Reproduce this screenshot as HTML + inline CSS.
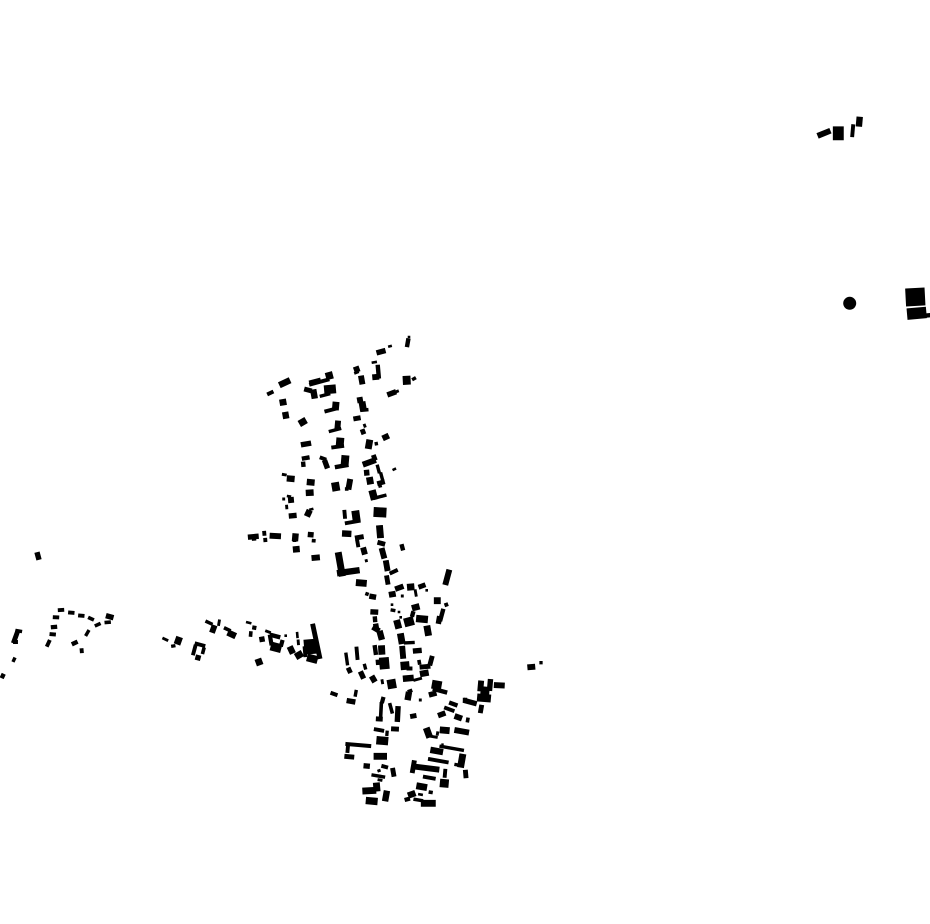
<!DOCTYPE html>
<html><head><meta charset="utf-8"><style>html,body{margin:0;padding:0;background:#fff}svg{display:block}</style></head><body>
<svg width="930" height="924" viewBox="0 0 930 924" xmlns="http://www.w3.org/2000/svg">
<defs><path id="b" d="M-.5-.5h1v1h-1z" stroke="#000" stroke-width="0.9" vector-effect="non-scaling-stroke"/></defs>
<rect width="930" height="924" fill="#fff"/>
<g fill="#000">
<!-- top right -->
<use href="#b" transform="translate(824 133.3) rotate(-22) scale(13 5)"/>
<use href="#b" transform="translate(838.3 133.3) scale(10 13)"/>
<use href="#b" transform="translate(852.7 130.7) rotate(5) scale(3 12)"/>
<use href="#b" transform="translate(859.3 121.7) rotate(5) scale(5.5 9)"/>
<circle cx="849.7" cy="303.3" r="6.5"/>
<use href="#b" transform="translate(915.3 297) rotate(-3) scale(18.5 17)"/>
<use href="#b" transform="translate(916.7 313.3) rotate(-5) scale(18.5 10.5)"/>
<use href="#b" transform="translate(926.5 315.5) rotate(-5) scale(6.5 3.5)"/>
<!-- north -->
<use href="#b" transform="translate(270.3 393) rotate(-25) scale(6 3)"/>
<use href="#b" transform="translate(284.7 382.7) rotate(-25) scale(11 5.5)"/>
<use href="#b" transform="translate(283 402.3) rotate(-10) scale(6 5.5)"/>
<use href="#b" transform="translate(285.7 415.3) rotate(-10) scale(5.5 6)"/>
<use href="#b" transform="translate(302.7 422) rotate(-30) scale(7 6)"/>
<use href="#b" transform="translate(306 444) rotate(-10) scale(9.5 4.5)"/>
<use href="#b" transform="translate(305.7 458) rotate(-10) scale(7 3.5)"/>
<use href="#b" transform="translate(303.3 464.3) rotate(-5) scale(3.5 4.5)"/>
<use href="#b" transform="translate(323 458.5) rotate(20) scale(6 3)"/>
<use href="#b" transform="translate(326 464.3) rotate(-20) scale(4.5 8)"/>
<use href="#b" transform="translate(345 460.7) rotate(5) scale(7 10)"/>
<use href="#b" transform="translate(341.7 466) rotate(-10) scale(13 3.5)"/>
<use href="#b" transform="translate(340 442.3) rotate(5) scale(7 8.5)"/>
<use href="#b" transform="translate(337.7 446.7) rotate(-8) scale(12 3)"/>
<use href="#b" transform="translate(337.7 425.3) rotate(5) scale(5 8.5)"/>
<use href="#b" transform="translate(335 430) rotate(-15) scale(12 2.5)"/>
<use href="#b" transform="translate(335.7 406) rotate(5) scale(6 7.5)"/>
<use href="#b" transform="translate(330.7 410) rotate(-15) scale(12 3)"/>
<use href="#b" transform="translate(319.3 382) rotate(-15) scale(20 3)"/>
<use href="#b" transform="translate(315 381.5) rotate(-15) scale(11 4)"/>
<use href="#b" transform="translate(329.3 375.7) rotate(-15) scale(6.5 6.5)"/>
<use href="#b" transform="translate(308 390) rotate(15) scale(7 4)"/>
<use href="#b" transform="translate(314 394) rotate(-10) scale(5.5 8.5)"/>
<use href="#b" transform="translate(330 389.3) rotate(-5) scale(11 8)"/>
<use href="#b" transform="translate(325 395) rotate(-15) scale(10 2.5)"/>
<use href="#b" transform="translate(356.7 369.3) rotate(-20) scale(5 5)"/>
<use href="#b" transform="translate(356.5 372.5) rotate(-20) scale(4 2)"/>
<use href="#b" transform="translate(361.7 380) rotate(-10) scale(5 8)"/>
<use href="#b" transform="translate(374.3 362.3) rotate(-10) scale(4.5 1.7)"/>
<use href="#b" transform="translate(378.3 371.7) rotate(-5) scale(3.5 13)"/>
<use href="#b" transform="translate(375.7 377) rotate(-5) scale(6 5)"/>
<use href="#b" transform="translate(381 351.7) rotate(-15) scale(8.5 4.5)"/>
<use href="#b" transform="translate(390 346.3) rotate(-15) scale(3 1.7)"/>
<use href="#b" transform="translate(407.7 342.7) rotate(10) scale(3.5 8)"/>
<use href="#b" transform="translate(409 337) scale(1.7 1.7)"/>
<use href="#b" transform="translate(406.7 380.3) rotate(-3) scale(7 8)"/>
<use href="#b" transform="translate(414 378.7) rotate(-30) scale(3.5 2.5)"/>
<use href="#b" transform="translate(391.7 393.3) rotate(-20) scale(8.5 4.5)"/>
<use href="#b" transform="translate(397.3 391.3) rotate(-20) scale(2.3 2)"/>
<use href="#b" transform="translate(360 400) rotate(-10) scale(5 5)"/>
<use href="#b" transform="translate(362.7 406) rotate(-10) scale(6 8)"/>
<use href="#b" transform="translate(364.3 410) rotate(-5) scale(7.5 2.7)"/>
<use href="#b" transform="translate(357 418.3) rotate(-10) scale(6.5 4)"/>
<use href="#b" transform="translate(364.7 425.7) rotate(-20) scale(2 3)"/>
<use href="#b" transform="translate(363 431.7) rotate(-20) scale(4 4.5)"/>
<use href="#b" transform="translate(369 444.3) rotate(10) scale(6 8.5)"/>
<use href="#b" transform="translate(376.3 443.7) rotate(-10) scale(2.5 2.7)"/>
<use href="#b" transform="translate(385.7 437) rotate(-25) scale(6 5)"/>
<use href="#b" transform="translate(369.3 462.3) rotate(-20) scale(13 5)"/>
<use href="#b" transform="translate(374.3 457.7) rotate(-20) scale(4 5)"/>
<use href="#b" transform="translate(378.3 469) rotate(-15) scale(2.5 8)"/>
<use href="#b" transform="translate(366.7 472.7) rotate(-5) scale(4.5 5)"/>
<use href="#b" transform="translate(370 480.7) rotate(-10) scale(6 6.5)"/>
<use href="#b" transform="translate(394.3 469.3) rotate(-25) scale(3 1.7)"/>
<use href="#b" transform="translate(381.7 476.7) rotate(-15) scale(2.5 8)"/>
<use href="#b" transform="translate(381 482.7) rotate(-15) scale(7 4)"/>
<use href="#b" transform="translate(380 485.7) rotate(-15) scale(2.7 3)"/>
<!-- middle -->
<use href="#b" transform="translate(284.3 474.7) rotate(10) scale(4 2)"/>
<use href="#b" transform="translate(290.7 478.7) rotate(5) scale(7 5.5)"/>
<use href="#b" transform="translate(310.7 482.3) rotate(5) scale(7 5.5)"/>
<use href="#b" transform="translate(309.7 492.7) rotate(-3) scale(7 5.5)"/>
<use href="#b" transform="translate(335.7 486.7) rotate(-10) scale(7 8)"/>
<use href="#b" transform="translate(349.3 484.3) rotate(10) scale(5 10)"/>
<use href="#b" transform="translate(346.7 489) scale(2.7 2.7)"/>
<use href="#b" transform="translate(283.7 499) scale(2 2)"/>
<use href="#b" transform="translate(291 500) rotate(-5) scale(5 5)"/>
<use href="#b" transform="translate(289 496.3) rotate(10) scale(3.5 1.7)"/>
<use href="#b" transform="translate(286.7 507) rotate(-5) scale(2 3.5)"/>
<use href="#b" transform="translate(292.7 515.7) rotate(-5) scale(7 4.5)"/>
<use href="#b" transform="translate(308.3 513.3) rotate(25) scale(5.5 6)"/>
<use href="#b" transform="translate(311.3 509.3) rotate(-15) scale(3.5 1.7)"/>
<use href="#b" transform="translate(344.7 514.3) rotate(-5) scale(3 8)"/>
<use href="#b" transform="translate(356 516) rotate(-8) scale(7 10)"/>
<use href="#b" transform="translate(352.7 522) rotate(-10) scale(15 3)"/>
<use href="#b" transform="translate(380 512.3) rotate(3) scale(12 9)"/>
<use href="#b" transform="translate(373.3 495) rotate(-15) scale(6.5 9)"/>
<use href="#b" transform="translate(380 496.7) rotate(-15) scale(12.5 2.5)"/>
<use href="#b" transform="translate(253.3 536.7) rotate(-5) scale(10 4.5)"/>
<use href="#b" transform="translate(254 539) rotate(-5) scale(3.5 2.5)"/>
<use href="#b" transform="translate(264.3 533.3) rotate(-5) scale(3 4)"/>
<use href="#b" transform="translate(265.3 540) rotate(-5) scale(3 3.3)"/>
<use href="#b" transform="translate(275.3 536) rotate(3) scale(10.5 5)"/>
<use href="#b" transform="translate(295.3 537.3) rotate(5) scale(5.5 7)"/>
<use href="#b" transform="translate(294.5 540) scale(3 3)"/>
<use href="#b" transform="translate(310.7 534.7) rotate(5) scale(5 4.5)"/>
<use href="#b" transform="translate(313.7 540.7) rotate(5) scale(3 2.7)"/>
<use href="#b" transform="translate(296.3 549.3) rotate(-5) scale(6 5.5)"/>
<use href="#b" transform="translate(315.7 557.7) rotate(-5) scale(7.5 5)"/>
<use href="#b" transform="translate(346.7 533.7) rotate(3) scale(8.5 5.5)"/>
<use href="#b" transform="translate(359.3 537.3) rotate(-10) scale(8 4)"/>
<use href="#b" transform="translate(357.7 543.3) rotate(-10) scale(3 7)"/>
<use href="#b" transform="translate(364 551) rotate(-15) scale(5 6.5)"/>
<use href="#b" transform="translate(366.3 560.7) rotate(-15) scale(2 2)"/>
<use href="#b" transform="translate(340.3 564.3) rotate(-10) scale(6 23.5)"/>
<use href="#b" transform="translate(348.3 571.7) rotate(-8) scale(22 5.5)"/>
<use href="#b" transform="translate(361.3 583) rotate(5) scale(10 6)"/>
<use href="#b" transform="translate(367 594) rotate(20) scale(2.7 2.7)"/>
<use href="#b" transform="translate(372.7 596.7) rotate(10) scale(6 4.5)"/>
<use href="#b" transform="translate(380 531.7) rotate(-5) scale(6 12)"/>
<use href="#b" transform="translate(381.3 543.3) rotate(15) scale(7 4)"/>
<use href="#b" transform="translate(383 553.3) rotate(-15) scale(5 10)"/>
<use href="#b" transform="translate(386.7 565.7) rotate(-10) scale(5 10)"/>
<use href="#b" transform="translate(393.7 571.7) rotate(-25) scale(8 3)"/>
<use href="#b" transform="translate(387.3 580) rotate(-10) scale(4 8.5)"/>
<use href="#b" transform="translate(402.3 547.3) rotate(-15) scale(3.5 5.5)"/>
<use href="#b" transform="translate(447.3 577.3) rotate(15) scale(5 15)"/>
<use href="#b" transform="translate(392.3 594.3) rotate(-10) scale(6 5)"/>
<use href="#b" transform="translate(399.3 587.7) rotate(-20) scale(8 4.5)"/>
<use href="#b" transform="translate(402.3 596) scale(2 2)"/>
<use href="#b" transform="translate(410.7 587) rotate(-5) scale(6.5 6)"/>
<use href="#b" transform="translate(415.7 593) rotate(-10) scale(2 6.5)"/>
<use href="#b" transform="translate(422 586) rotate(-20) scale(6.5 4)"/>
<use href="#b" transform="translate(426.7 590.3) scale(1.7 1.7)"/>
<use href="#b" transform="translate(437.3 600.7) scale(6 6)"/>
<use href="#b" transform="translate(446.3 604.7) rotate(-20) scale(3 3)"/>
<use href="#b" transform="translate(441.7 615) rotate(15) scale(3.5 12)"/>
<use href="#b" transform="translate(439 620) rotate(10) scale(4.5 7)"/>
<use href="#b" transform="translate(392 604.7) scale(1.7 1.7)"/>
<use href="#b" transform="translate(393 610.3) rotate(10) scale(4 2.5)"/>
<use href="#b" transform="translate(399 612) scale(1.7 1.7)"/>
<use href="#b" transform="translate(400.7 617.3) scale(1.7 1.7)"/>
<use href="#b" transform="translate(415.7 607.3) rotate(-15) scale(7 5.5)"/>
<use href="#b" transform="translate(412.7 614) rotate(15) scale(3.5 5)"/>
<use href="#b" transform="translate(422 619) rotate(5) scale(11 6.5)"/>
<use href="#b" transform="translate(409 621.7) rotate(-15) scale(9 8)"/>
<use href="#b" transform="translate(397.7 624.3) rotate(-15) scale(6 8)"/>
<use href="#b" transform="translate(374.3 612) rotate(3) scale(7 4.5)"/>
<use href="#b" transform="translate(375 619.3) rotate(-5) scale(3.5 5)"/>
<use href="#b" transform="translate(376 626) rotate(-10) scale(4.5 4)"/>
<use href="#b" transform="translate(376 629) rotate(30) scale(7 4.5)"/>
<use href="#b" transform="translate(380.7 635.3) rotate(-15) scale(5.5 8.5)"/>
<use href="#b" transform="translate(427.7 630.7) rotate(-10) scale(6 9.5)"/>
<use href="#b" transform="translate(401.3 638.7) rotate(-10) scale(6 10)"/>
<use href="#b" transform="translate(409.3 642.7) rotate(-3) scale(10 2.5)"/>
<!-- lower middle -->
<use href="#b" transform="translate(346.7 659) rotate(-8) scale(2.5 12)"/>
<use href="#b" transform="translate(357 653.3) rotate(-5) scale(3 12.5)"/>
<use href="#b" transform="translate(375.3 650) rotate(-8) scale(3.5 9)"/>
<use href="#b" transform="translate(381.7 650) rotate(-3) scale(6 8.5)"/>
<use href="#b" transform="translate(402.7 652.3) rotate(-5) scale(5 12)"/>
<use href="#b" transform="translate(417.3 650.7) rotate(-5) scale(8 4.5)"/>
<use href="#b" transform="translate(384.3 663.3) rotate(-5) scale(9 11)"/>
<use href="#b" transform="translate(377.7 662.3) rotate(-5) scale(3 4.5)"/>
<use href="#b" transform="translate(365 666.7) rotate(-15) scale(2.5 5)"/>
<use href="#b" transform="translate(349.3 670.3) rotate(-25) scale(4 5)"/>
<use href="#b" transform="translate(362 675) rotate(-25) scale(4.5 7)"/>
<use href="#b" transform="translate(373.3 679) rotate(-30) scale(5 6)"/>
<use href="#b" transform="translate(382.3 681.7) rotate(-10) scale(2 4)"/>
<use href="#b" transform="translate(391.7 684) rotate(-10) scale(8 8.5)"/>
<use href="#b" transform="translate(405 665.7) rotate(-5) scale(8 7.5)"/>
<use href="#b" transform="translate(409.5 668.5) scale(5 3)"/>
<use href="#b" transform="translate(419.3 662.3) rotate(-10) scale(2.7 4)"/>
<use href="#b" transform="translate(431 660.7) rotate(15) scale(4 9)"/>
<use href="#b" transform="translate(425 666.7) rotate(-5) scale(10 4)"/>
<use href="#b" transform="translate(424.3 673.3) rotate(-10) scale(8 5.5)"/>
<use href="#b" transform="translate(408.3 678.3) rotate(-5) scale(10 5.5)"/>
<use href="#b" transform="translate(417.7 679.3) rotate(-15) scale(8 2)"/>
<use href="#b" transform="translate(334 694) rotate(20) scale(6.5 3)"/>
<use href="#b" transform="translate(355.7 693.3) rotate(10) scale(2.5 6)"/>
<use href="#b" transform="translate(351 701.3) rotate(10) scale(8 4.5)"/>
<use href="#b" transform="translate(382.7 700) rotate(15) scale(3.3 5.5)"/>
<use href="#b" transform="translate(381 710) rotate(3) scale(2.7 15)"/>
<use href="#b" transform="translate(391 708.3) rotate(-15) scale(2.7 10)"/>
<use href="#b" transform="translate(397.7 714) rotate(3) scale(4.5 15)"/>
<use href="#b" transform="translate(395 729) rotate(3) scale(7 4)"/>
<use href="#b" transform="translate(379.3 719) rotate(3) scale(6 4)"/>
<use href="#b" transform="translate(410 691) rotate(-20) scale(4 2.7)"/>
<use href="#b" transform="translate(408.3 696) rotate(10) scale(5.5 7.5)"/>
<use href="#b" transform="translate(420.3 700) scale(2 2)"/>
<use href="#b" transform="translate(413.3 716) rotate(-10) scale(5.5 4)"/>
<use href="#b" transform="translate(436.7 685) rotate(10) scale(9 8)"/>
<use href="#b" transform="translate(440 690.7) rotate(15) scale(14 3.5)"/>
<use href="#b" transform="translate(432.7 694) rotate(-15) scale(7 4.5)"/>
<use href="#b" transform="translate(453.3 704) rotate(20) scale(8 3.5)"/>
<use href="#b" transform="translate(449.3 709.3) rotate(20) scale(10 3)"/>
<use href="#b" transform="translate(441.7 714.3) rotate(-20) scale(7 4.5)"/>
<use href="#b" transform="translate(458.3 717.3) rotate(20) scale(7 5)"/>
<use href="#b" transform="translate(467.7 720) rotate(10) scale(2.7 4)"/>
<use href="#b" transform="translate(470 702) rotate(15) scale(13 4.5)"/>
<use href="#b" transform="translate(465 700) scale(3.5 3.5)"/>
<use href="#b" transform="translate(480.7 686) rotate(5) scale(5 10)"/>
<use href="#b" transform="translate(490 685) rotate(5) scale(4.5 11)"/>
<use href="#b" transform="translate(484 698) rotate(5) scale(13 7)"/>
<use href="#b" transform="translate(485 691) rotate(5) scale(8 8)"/>
<use href="#b" transform="translate(499.3 685.3) rotate(3) scale(10 5)"/>
<use href="#b" transform="translate(481 709) rotate(10) scale(4 7.5)"/>
<use href="#b" transform="translate(531.3 667) rotate(-5) scale(7 5)"/>
<use href="#b" transform="translate(541 662.7) scale(2.4 2.4)"/>
<!-- south -->
<use href="#b" transform="translate(379 730) rotate(10) scale(9.5 3)"/>
<use href="#b" transform="translate(387 733.3) rotate(5) scale(2.4 4.5)"/>
<use href="#b" transform="translate(382.3 740.7) rotate(5) scale(11 7.5)"/>
<use href="#b" transform="translate(358.3 745) rotate(5) scale(25 3)"/>
<use href="#b" transform="translate(347.8 748) rotate(5) scale(3 9)"/>
<use href="#b" transform="translate(349.3 756.7) rotate(5) scale(9 4)"/>
<use href="#b" transform="translate(380.3 756.3) scale(12.5 6)"/>
<use href="#b" transform="translate(366.7 766) rotate(5) scale(5.5 4.5)"/>
<use href="#b" transform="translate(384.7 766.7) rotate(15) scale(6 3)"/>
<use href="#b" transform="translate(379 770.7) rotate(-20) scale(2.4 2)"/>
<use href="#b" transform="translate(393.3 772.3) rotate(-10) scale(4 8)"/>
<use href="#b" transform="translate(378.3 776) rotate(10) scale(13 2.5)"/>
<use href="#b" transform="translate(380 780) rotate(10) scale(4 2)"/>
<use href="#b" transform="translate(376.7 787) rotate(-5) scale(6 8)"/>
<use href="#b" transform="translate(369.3 790.7) rotate(-3) scale(13 6)"/>
<use href="#b" transform="translate(371.7 801) rotate(5) scale(11 6.5)"/>
<use href="#b" transform="translate(386 796) rotate(10) scale(5.5 10)"/>
<use href="#b" transform="translate(407.3 799.3) rotate(-15) scale(4.7 3.3)"/>
<use href="#b" transform="translate(411.7 794.3) rotate(-20) scale(7 5.5)"/>
<use href="#b" transform="translate(428.3 803.3) scale(14 6)"/>
<use href="#b" transform="translate(418.3 800) rotate(10) scale(9 2.5)"/>
<use href="#b" transform="translate(420.5 794.5) rotate(10) scale(4 1.7)"/>
<use href="#b" transform="translate(421.7 786.7) rotate(10) scale(10 6)"/>
<use href="#b" transform="translate(430.7 792.3) rotate(10) scale(3.3 2.7)"/>
<use href="#b" transform="translate(444.3 783.3) rotate(5) scale(8 7.5)"/>
<use href="#b" transform="translate(429.3 777.7) rotate(10) scale(12 3)"/>
<use href="#b" transform="translate(413.3 766.7) rotate(10) scale(4 12)"/>
<use href="#b" transform="translate(426 768) rotate(7) scale(26 5)"/>
<use href="#b" transform="translate(445 773.3) rotate(5) scale(3 8)"/>
<use href="#b" transform="translate(438.3 760.7) rotate(10) scale(20 3)"/>
<use href="#b" transform="translate(436.7 751) rotate(10) scale(12 5.5)"/>
<use href="#b" transform="translate(451.7 748.3) rotate(10) scale(24 2.5)"/>
<use href="#b" transform="translate(442.5 745.3) scale(1.5 3)"/>
<use href="#b" transform="translate(461.7 760.7) rotate(10) scale(6 13)"/>
<use href="#b" transform="translate(458 765) rotate(10) scale(6.5 2.4)"/>
<use href="#b" transform="translate(465.7 774) rotate(-5) scale(4 7.5)"/>
<use href="#b" transform="translate(428 732.7) rotate(-20) scale(6 9.5)"/>
<use href="#b" transform="translate(433.3 736.7) rotate(10) scale(8 2)"/>
<use href="#b" transform="translate(437.5 733.5) rotate(10) scale(2 3.3)"/>
<use href="#b" transform="translate(444.7 730.3) rotate(5) scale(9 6)"/>
<use href="#b" transform="translate(461.7 731.3) rotate(10) scale(14 5)"/>
<!-- west: row -->
<use href="#b" transform="translate(165.3 639.3) rotate(25) scale(5.5 2)"/>
<use href="#b" transform="translate(173.3 646) rotate(-10) scale(3.5 2.5)"/>
<use href="#b" transform="translate(178.3 640.7) rotate(20) scale(6 7)"/>
<use href="#b" transform="translate(200 644.7) rotate(15) scale(10 3)"/>
<use href="#b" transform="translate(194.3 650) rotate(15) scale(3 10)"/>
<use href="#b" transform="translate(203.3 650.7) rotate(15) scale(2.7 6)"/>
<use href="#b" transform="translate(198 657.7) rotate(15) scale(4.5 4.5)"/>
<use href="#b" transform="translate(209 622.7) rotate(25) scale(7 2.5)"/>
<use href="#b" transform="translate(213.3 629) rotate(20) scale(5 7)"/>
<use href="#b" transform="translate(219 622.7) rotate(10) scale(2 5.5)"/>
<use href="#b" transform="translate(227.3 629.3) rotate(25) scale(6.5 2.7)"/>
<use href="#b" transform="translate(231.7 634.3) rotate(25) scale(8 5.5)"/>
<use href="#b" transform="translate(248.7 622.7) rotate(15) scale(4.7 1.7)"/>
<use href="#b" transform="translate(254.3 627.7) rotate(10) scale(3.3 3.3)"/>
<use href="#b" transform="translate(250.7 634) rotate(5) scale(2.7 4.7)"/>
<use href="#b" transform="translate(262 639.3) rotate(-10) scale(4.5 4.5)"/>
<use href="#b" transform="translate(268 631.7) rotate(20) scale(5 2)"/>
<use href="#b" transform="translate(275 636) rotate(15) scale(10 3.5)"/>
<use href="#b" transform="translate(270.7 640) rotate(-10) scale(3.3 10)"/>
<use href="#b" transform="translate(276 647.3) rotate(15) scale(10 8)"/>
<use href="#b" transform="translate(281.7 643.3) rotate(15) scale(3.3 6)"/>
<use href="#b" transform="translate(285.7 635.7) scale(1.7 1.7)"/>
<use href="#b" transform="translate(259 662) rotate(-20) scale(6 6)"/>
<use href="#b" transform="translate(297.3 635) rotate(-5) scale(1.7 5.3)"/>
<use href="#b" transform="translate(298.3 642.3) rotate(-5) scale(2 4.7)"/>
<use href="#b" transform="translate(291.3 650) rotate(-25) scale(5.5 7)"/>
<use href="#b" transform="translate(299 655) rotate(-30) scale(7 6)"/>
<use href="#b" transform="translate(316.3 641.3) rotate(-12) scale(4 35)"/>
<use href="#b" transform="translate(310 646.7) rotate(-5) scale(11 14)"/>
<use href="#b" transform="translate(312.3 658.7) rotate(15) scale(10 7)"/>
<use href="#b" transform="translate(305 651.7) rotate(-5) scale(3 10)"/>
<!-- far west -->
<use href="#b" transform="translate(38 556) rotate(-15) scale(4.5 7)"/>
<use href="#b" transform="translate(61 610) rotate(-3) scale(5.5 3)"/>
<use href="#b" transform="translate(71.3 612.7) rotate(5) scale(5.5 3)"/>
<use href="#b" transform="translate(81.3 615.7) rotate(5) scale(5.5 3)"/>
<use href="#b" transform="translate(91 618.7) rotate(25) scale(5.5 2.7)"/>
<use href="#b" transform="translate(97.7 624.7) rotate(-25) scale(5.5 2.7)"/>
<use href="#b" transform="translate(107.7 622.3) rotate(-5) scale(5.5 2.7)"/>
<use href="#b" transform="translate(109.7 616.7) rotate(15) scale(7 4.5)"/>
<use href="#b" transform="translate(56 617.3) rotate(3) scale(5.5 3)"/>
<use href="#b" transform="translate(54 627) rotate(-5) scale(5.5 3.3)"/>
<use href="#b" transform="translate(52.7 634.3) rotate(5) scale(5.5 3)"/>
<use href="#b" transform="translate(48.3 643.3) rotate(25) scale(3 6.5)"/>
<use href="#b" transform="translate(87.3 633) rotate(30) scale(2.5 6)"/>
<use href="#b" transform="translate(74.7 643) rotate(-25) scale(5.5 3.5)"/>
<use href="#b" transform="translate(81.7 650.7) rotate(-5) scale(3 4)"/>
<use href="#b" transform="translate(15.7 636.7) rotate(20) scale(4 13)"/>
<use href="#b" transform="translate(18.7 631) rotate(10) scale(6 2.5)"/>
<use href="#b" transform="translate(15.5 642) scale(4 3)"/>
<use href="#b" transform="translate(14 659.7) rotate(25) scale(2.5 4)"/>
<use href="#b" transform="translate(2.7 676) rotate(25) scale(3.5 4)"/>
</g>
</svg>
</body></html>
